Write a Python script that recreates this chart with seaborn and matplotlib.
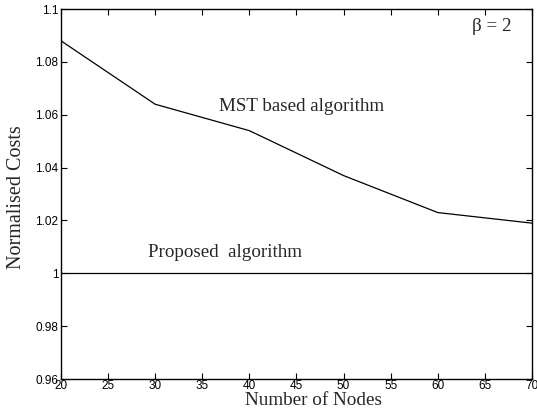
import matplotlib
matplotlib.use("Agg")
import matplotlib.pyplot as plt
import seaborn as sns
import pandas as pd

nodes = [20, 30, 40, 50, 60, 70]
mst_costs = [1.088, 1.064, 1.054, 1.037, 1.023, 1.019]
proposed_costs = [1.0, 1.0, 1.0, 1.0, 1.0, 1.0]
x_ticks = [20, 25, 30, 35, 40, 45, 50, 55, 60, 65, 70]
y_ticks = [0.96, 0.98, 1.0, 1.02, 1.04, 1.06, 1.08, 1.1]
y_tick_labels = ["0.96", "0.98", "1", "1.02", "1.04", "1.06", "1.08", "1.1"]

sns.set_theme(style="ticks")
plt.rcParams["font.family"] = ["Liberation Sans", "DejaVu Sans"]

df = pd.DataFrame({"nodes": nodes + nodes,
                   "cost": mst_costs + proposed_costs,
                   "alg": ["MST"] * 6 + ["Proposed"] * 6})

fig = plt.figure(figsize=(5.37, 4.17), dpi=100)
ax = fig.add_axes([0.1136, 0.0911, 0.877, 0.887])
sns.lineplot(data=df, x="nodes", y="cost", hue="alg",
             palette=["black", "black"], linewidth=0.9, legend=False, ax=ax)

ax.set_xlim(20, 70)
ax.set_ylim(0.96, 1.1)
ax.set_xticks(x_ticks)
ax.set_xticklabels([str(t) for t in x_ticks])
ax.set_yticks(y_ticks)
ax.set_yticklabels(y_tick_labels)
ax.tick_params(direction="in", length=4, width=0.8, labelsize=8.5, pad=2,
               top=True, right=True, colors="black")
ax.tick_params(axis="x", pad=1)
for s in ax.spines.values():
    s.set_linewidth(1.0)
    s.set_color("black")

serif = ["Liberation Serif", "DejaVu Serif"]
ax.set_xlabel("Number of Nodes", family=serif, fontsize=13.8)
ax.xaxis.set_label_coords(0.536, -0.036)
ax.set_ylabel("Normalised Costs", family=serif, fontsize=14.5)
ax.yaxis.set_label_coords(-0.074, 0.491)

ax.text(45.5, 1.0631, "MST based algorithm", family=serif, fontsize=13.7,
        ha="center", va="center")
ax.text(37.4, 1.0078, "Proposed  algorithm", family=serif, fontsize=13.7,
        ha="center", va="center")
ax.text(65.75, 1.0934, "\u03b2 = 2", family=serif, fontsize=13.7,
        ha="center", va="center")

fig.savefig("out.png", dpi=100)
